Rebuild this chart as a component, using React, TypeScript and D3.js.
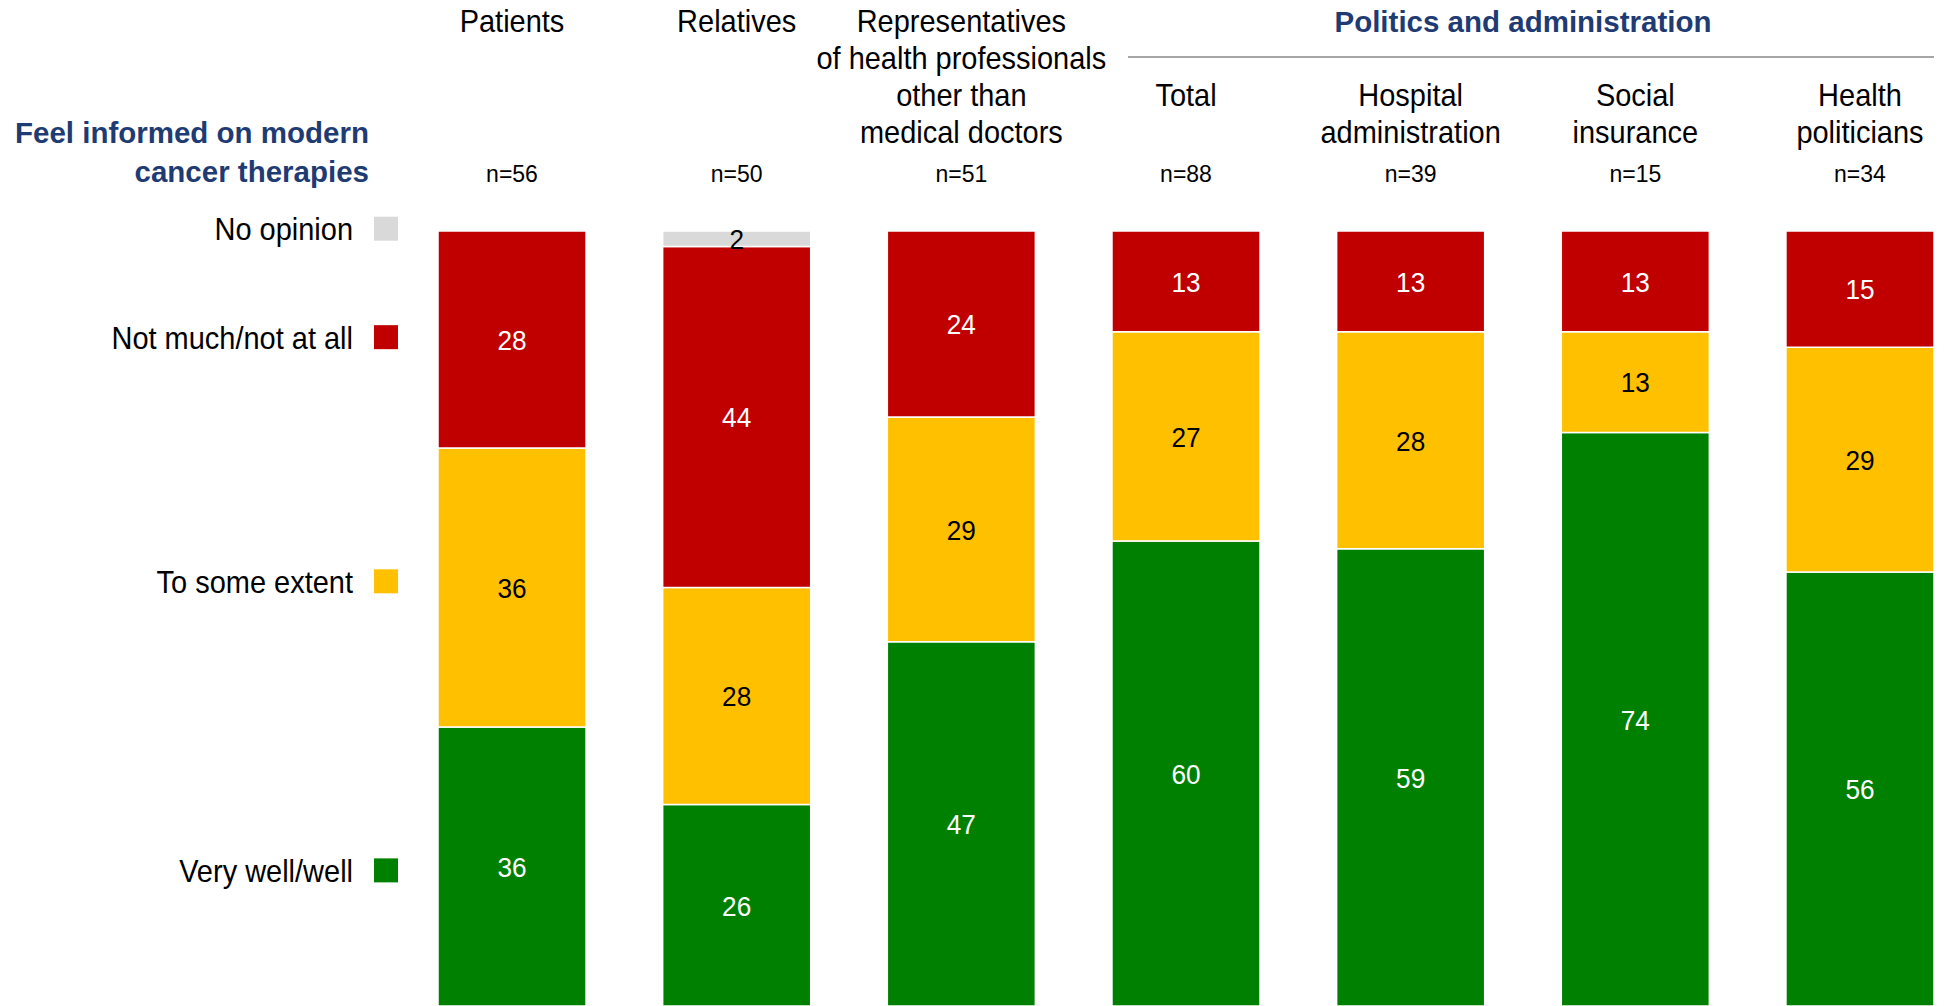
import React from "react";
import * as d3 from "d3";

// categories, top-to-bottom header lines and sample sizes
const groups = ["Patients", "Relatives", "Representatives", "Total", "Hospital", "Social", "Health"];
const groupLabels: string[][] = [
  ["Patients"],
  ["Relatives"],
  ["Representatives", "of health professionals", "other than", "medical doctors"],
  ["Total"],
  ["Hospital", "administration"],
  ["Social", "insurance"],
  ["Health", "politicians"],
];
const groupLabelStart = [0, 0, 0, 2, 2, 2, 2];
const sampleSizes = ["n=56", "n=50", "n=51", "n=88", "n=39", "n=15", "n=34"];

// series, bottom to top in the stack
const seriesKeys = ["veryWell", "someExtent", "notMuch", "noOpinion"];
const seriesNames = ["Very well/well", "To some extent", "Not much/not at all", "No opinion"];
const seriesColors = ["#008000", "#FFC000", "#C00000", "#D9D9D9"];
const labelColors = ["#ffffff", "#000000", "#ffffff", "#000000"];
const legendPos = [17.5, 54.8, 86.3, 100.3]; // in % of the bar scale

const veryWell = [36, 26, 47, 60, 59, 74, 56];
const someExtent = [36, 28, 29, 27, 28, 13, 29];
const notMuch = [28, 44, 24, 13, 13, 13, 15];
const noOpinion = [0, 2, 0, 0, 0, 0, 0];

const W = 1951;
const H = 1006;
const navy = "#1F3B73";
const font = "'Liberation Sans', Arial, sans-serif";
const squeeze = 0.92; // source font is a bit narrower than Liberation Sans

// text drawn slightly condensed, anchored at (x, y)
function NarrowText({ x, y, anchor = "middle", size, fill = "#000", dy, children }: any) {
  return (
    <text
      transform={`translate(${x},${y}) scale(${squeeze},1)`}
      textAnchor={anchor}
      fontSize={size}
      fill={fill}
      dy={dy}
    >
      {children}
    </text>
  );
}

export default function App() {
  const rows = groups.map((g, i) => ({
    group: g,
    veryWell: veryWell[i],
    someExtent: someExtent[i],
    notMuch: notMuch[i],
    noOpinion: noOpinion[i],
  }));
  const stacked = d3.stack<any>().keys(seriesKeys)(rows);

  const x = d3.scaleBand().domain(groups).range([438, 1934]).paddingInner(0.341).paddingOuter(0);
  const y = d3.scaleLinear().domain([0, 100]).range([H, 231]);

  const lineY = [32, 69, 106, 143];
  const politicsX0 = 1128;

  return (
    <svg width={W} height={H} style={{ position: "absolute", left: 0, top: 0 }} fontFamily={font}>
      {/* left title */}
      <text x={369} y={143} textAnchor="end" fontWeight="bold" fontSize={29.5} fill={navy}>
        Feel informed on modern
      </text>
      <text x={369} y={182} textAnchor="end" fontWeight="bold" fontSize={29.5} fill={navy}>
        cancer therapies
      </text>

      {/* politics header */}
      <text x={(x("Total")! + x("Health")! + x.bandwidth()) / 2} y={32} textAnchor="middle" fontWeight="bold" fontSize={29.5} fill={navy}>
        Politics and administration
      </text>
      <line x1={politicsX0} x2={x("Health")! + x.bandwidth()} y1={57} y2={57} stroke="#A6A6A6" strokeWidth={2} />

      {/* category headers */}
      {groups.map((g, i) => (
        <g key={g}>
          {groupLabels[i].map((t, j) => (
            <NarrowText key={j} x={x(g)! + x.bandwidth() / 2} y={lineY[groupLabelStart[i] + j]} size={31.5}>
              {t}
            </NarrowText>
          ))}
          <text x={x(g)! + x.bandwidth() / 2} y={182} textAnchor="middle" fontSize={23} fill="#000">
            {sampleSizes[i]}
          </text>
        </g>
      ))}

      {/* legend */}
      {seriesNames.map((name, k) => (
        <g key={name}>
          <NarrowText x={353} y={y(legendPos[k])} dy="0.36em" anchor="end" size={31.5}>
            {name}
          </NarrowText>
          <rect x={374} y={y(legendPos[k]) - 12} width={24} height={24} fill={seriesColors[k]} />
        </g>
      ))}

      {/* bars */}
      {stacked.map((s, k) => (
        <g key={s.key}>
          {s.map((d, i) => {
            const v = d[1] - d[0];
            if (v <= 0) return null;
            const cx = x(groups[i])! + x.bandwidth() / 2;
            const cy = (y(d[0]) + y(d[1])) / 2;
            return (
              <g key={i}>
                <rect
                  x={x(groups[i])}
                  y={y(d[1])}
                  width={x.bandwidth()}
                  height={y(d[0]) - y(d[1])}
                  fill={seriesColors[k]}
                  stroke="#ffffff"
                  strokeWidth={1.5}
                />
                <NarrowText x={cx} y={cy} dy="0.36em" size={28.5} fill={labelColors[k]}>
                  {v}
                </NarrowText>
              </g>
            );
          })}
        </g>
      ))}
    </svg>
  );
}
